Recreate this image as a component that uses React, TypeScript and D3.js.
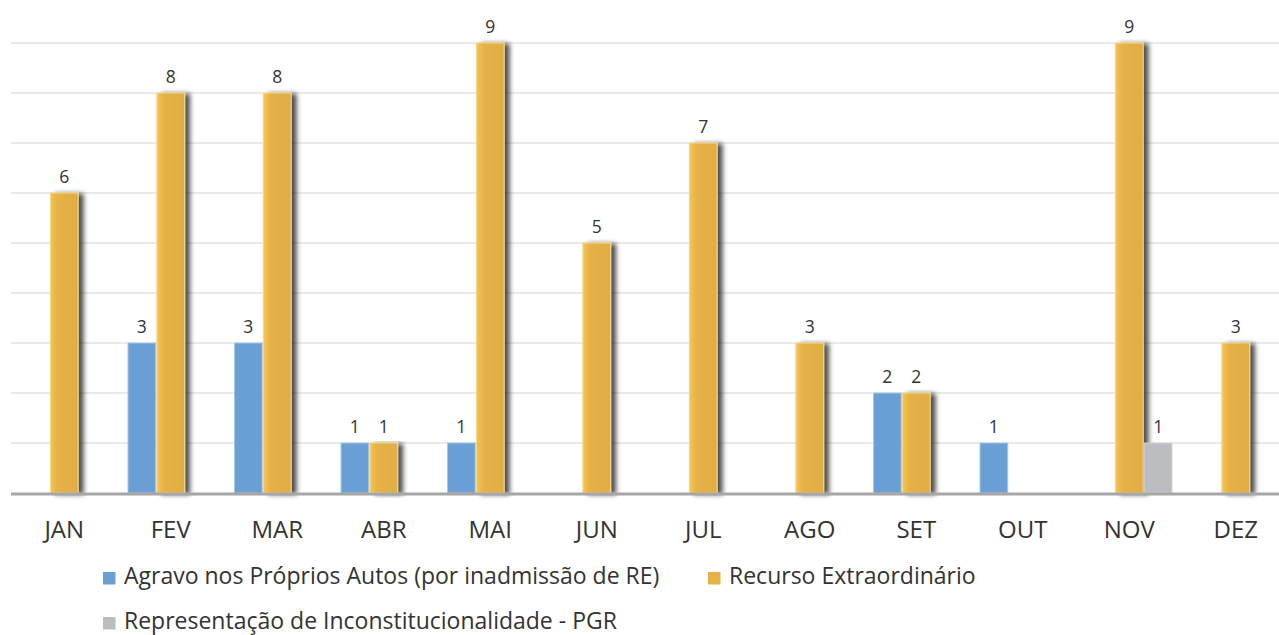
import React from 'react';
import * as d3 from 'd3';

// chart data
const months = ['JAN', 'FEV', 'MAR', 'ABR', 'MAI', 'JUN', 'JUL', 'AGO', 'SET', 'OUT', 'NOV', 'DEZ'];
const seriesNames = [
  'Agravo nos Próprios Autos (por inadmissão de RE)',
  'Recurso Extraordinário',
  'Representação de Inconstitucionalidade - PGR',
];
const agravo = [0, 3, 3, 1, 1, 0, 0, 0, 2, 1, 0, 0];
const recurso = [6, 8, 8, 1, 9, 5, 7, 3, 2, 0, 9, 3];
const representacao = [0, 0, 0, 0, 0, 0, 0, 0, 0, 0, 1, 0];
const yTicks = [0, 1, 2, 3, 4, 5, 6, 7, 8, 9];

const colors = ['#6a9fd5', '#e6b146', '#bcbdc0'];
const font = "'Open Sans', sans-serif";

const App = () => {
  const width = 1279;
  const height = 635;

  // Set up scales
  const x = d3.scaleBand().domain(months).range([11, 11 + 12 * 106.5]).paddingInner(0).paddingOuter(0);
  const inner = d3.scaleBand().domain(['0', '1', '2']).range([10.5, 106.5 - 10.5]).paddingInner(0.04);
  const y = d3.scaleLinear().domain([0, 9]).range([493, 43]);

  const series = [agravo, recurso, representacao];

  return (
    <div style={{ position: 'absolute', left: 0, top: 0 }}>
      <svg width={width} height={height} style={{ display: 'block', background: '#fff' }}>
        <defs>
          <filter id="shadow" x="-20%" y="-5%" width="170%" height="115%">
            <feGaussianBlur in="SourceAlpha" stdDeviation="2.5" />
            <feOffset dx="4.5" dy="1" result="blur" />
            <feComponentTransfer>
              <feFuncA type="linear" slope="0.7" />
            </feComponentTransfer>
            <feMerge>
              <feMergeNode />
              <feMergeNode in="SourceGraphic" />
            </feMerge>
          </filter>
          <linearGradient id="gold" x1="0" x2="1" y1="0" y2="0">
            <stop offset="0" stopColor="#f7c652" />
            <stop offset="0.25" stopColor="#e6b146" />
            <stop offset="1" stopColor="#e1ad43" />
          </linearGradient>
        </defs>

        {/* gridlines */}
        {yTicks.slice(1).map((t) => (
          <line key={t} x1={11} x2={width} y1={y(t)} y2={y(t)} stroke="#e3e3e3" strokeWidth={1.5} />
        ))}

        {/* bars */}
        {series.map((vals, si) => (
          <g key={si}>
            {months.map((m, i) => {
              const v = vals[i];
              if (!v) return null;
              const bx = (x(m) as number) + (inner(String(si)) as number);
              const bw = inner.bandwidth();
              return (
                <g key={m}>
                  <rect
                    x={bx}
                    y={y(v)}
                    width={bw}
                    height={y(0) - y(v)}
                    fill={si === 1 ? 'url(#gold)' : colors[si]}
                    stroke={si === 0 ? '#a9c7e8' : si === 1 ? '#f3d98f' : '#d6d6d8'}
                    strokeWidth={1}
                    filter={si === 1 ? 'url(#shadow)' : undefined}
                  />
                  <text
                    x={bx + bw / 2}
                    y={y(v) - 10}
                    textAnchor="middle"
                    fontFamily={font}
                    fontSize={17.5}
                    fill="#333"
                  >
                    {v}
                  </text>
                </g>
              );
            })}
          </g>
        ))}

        {/* baseline */}
        <line x1={11} x2={width} y1={y(0) + 1} y2={y(0) + 1} stroke="#a6a6a6" strokeWidth={3} />

        {/* x labels */}
        {months.map((m) => (
          <text
            key={m}
            x={(x(m) as number) + x.bandwidth() / 2}
            y={537.5}
            textAnchor="middle"
            fontFamily={font}
            fontSize={24}
            fill="#333"
          >
            {m}
          </text>
        ))}

        {/* legend */}
        {[
          { i: 0, lx: 103, ly: 584 },
          { i: 1, lx: 708, ly: 584 },
          { i: 2, lx: 103, ly: 629 },
        ].map(({ i, lx, ly }) => (
          <g key={i}>
            <rect x={lx} y={ly - 12} width={12.5} height={12.5} fill={colors[i]} />
            <text x={lx + 21} y={ly} fontFamily={font} fontSize={23} fill="#333">
              {seriesNames[i]}
            </text>
          </g>
        ))}
      </svg>
    </div>
  );
};

export default App;
